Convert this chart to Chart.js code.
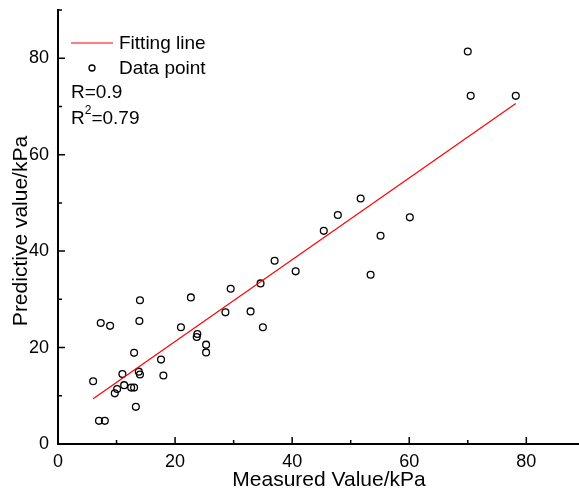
<!DOCTYPE html>
<html>
<head>
<meta charset="utf-8">
<script src="https://cdn.jsdelivr.net/npm/chart.js@4.4.1/dist/chart.umd.min.js"></script>
<style>
  html, body { margin: 0; padding: 0; background: #fff; }
  #wrap { width: 579px; height: 492px; position: relative; }
</style>
</head>
<body>
<div id="wrap"><canvas id="fitChart"></canvas></div>
<script>
// measured vs predicted values
const measured = [6.0, 7.0, 8.0, 7.3, 8.9, 9.7, 10.1, 11.0, 11.3, 12.5, 13.0, 13.0, 13.3, 13.8, 14.0, 13.9, 14.0,
                  17.6, 18.0, 21.0, 22.7, 23.8, 23.7, 25.3, 25.3, 28.6, 29.5, 32.9, 34.6, 35.0,
                  37.0, 40.6, 45.4, 47.8, 51.7, 53.4, 55.1, 60.1, 70.0, 70.5, 78.2];
const predicted = [13.0, 4.8, 4.8, 25.1, 24.5, 10.5, 11.4, 14.5, 12.2, 11.7, 11.7, 18.9, 7.7, 15.0, 14.4, 25.5, 29.8,
                   17.5, 14.2, 24.2, 30.4, 22.8, 22.2, 20.6, 19.0, 27.3, 32.2, 27.5, 33.3, 24.2,
                   38.0, 35.8, 44.2, 47.5, 50.9, 35.1, 43.2, 47.0, 81.4, 72.2, 72.2];

// fitting line end points
const fitX = [6.0, 78.2];
const fitY = [9.4, 70.6];

const xTicks = [0, 20, 40, 60, 80];
const yTicks = [0, 20, 40, 60, 80];
const xMinor = [10, 30, 50, 70];
const yMinor = [10, 30, 50, 70, 90];

const xTitle = 'Measured Value/kPa';
const yTitle = 'Predictive value/kPa';
const rValue = 'R=0.9';
const r2Value = '0.79';

const FONT = '"Liberation Sans", Arial, sans-serif';

// inward tick marks, axis titles and legend block
const axisDecor = {
    id: 'axisDecor',
    afterDraw(chart) {
        const ctx = chart.ctx;
        const xs = chart.scales.x, ys = chart.scales.y;
        const area = chart.chartArea;
        ctx.save();
        ctx.strokeStyle = '#000';
        ctx.lineWidth = 1.5;
        ctx.beginPath();
        xTicks.forEach(function(v) {
            const px = xs.getPixelForValue(v);
            ctx.moveTo(px, area.bottom); ctx.lineTo(px, area.bottom - 7);
        });
        xMinor.forEach(function(v) {
            const px = xs.getPixelForValue(v);
            ctx.moveTo(px, area.bottom); ctx.lineTo(px, area.bottom - 4);
        });
        yTicks.forEach(function(v) {
            const py = ys.getPixelForValue(v);
            ctx.moveTo(area.left, py); ctx.lineTo(area.left + 7, py);
        });
        yMinor.forEach(function(v) {
            const py = ys.getPixelForValue(v);
            ctx.moveTo(area.left, py); ctx.lineTo(area.left + 4, py);
        });
        ctx.stroke();

        // axis titles
        ctx.fillStyle = '#000';
        ctx.font = '21px ' + FONT;
        ctx.textAlign = 'center';
        ctx.textBaseline = 'middle';
        ctx.fillText(xTitle, 329, 480);
        ctx.save();
        ctx.translate(21, 231);
        ctx.rotate(-Math.PI / 2);
        ctx.fillText(yTitle, 0, 0);
        ctx.restore();

        // legend
        const ds = chart.data.datasets;
        ctx.font = '19px ' + FONT;
        ctx.textAlign = 'left';

        ctx.strokeStyle = '#ff0000';
        ctx.lineWidth = 1.2;
        ctx.beginPath();
        ctx.moveTo(71, 43); ctx.lineTo(113, 43);
        ctx.stroke();
        ctx.fillText(ds[0].label, 119, 44);

        ctx.strokeStyle = '#000';
        ctx.lineWidth = 1.3;
        ctx.beginPath();
        ctx.arc(92, 68, 3, 0, Math.PI * 2);
        ctx.stroke();
        ctx.fillText(ds[1].label, 119, 69);

        ctx.fillText(rValue, 71, 93);
        ctx.fillText('R', 71, 119);
        const rw = ctx.measureText('R').width;
        ctx.font = '12px ' + FONT;
        ctx.fillText('2', 71 + rw, 111);
        const sw = ctx.measureText('2').width;
        ctx.font = '19px ' + FONT;
        ctx.fillText('=' + r2Value, 71 + rw + sw, 119);
        ctx.restore();
    }
};

const points = measured.map(function(x, i) { return { x: x, y: predicted[i] }; });
const fitLine = fitX.map(function(x, i) { return { x: x, y: fitY[i] }; });

new Chart(document.getElementById('fitChart'), {
    type: 'scatter',
    data: {
        datasets: [{
            label: 'Fitting line',
            type: 'line',
            data: fitLine,
            borderColor: '#ff0000',
            borderWidth: 1.2,
            pointRadius: 0,
            fill: false
        }, {
            label: 'Data point',
            data: points,
            pointRadius: 3.4,
            pointBorderWidth: 1.3,
            pointBorderColor: '#000',
            pointBackgroundColor: 'rgba(0,0,0,0)'
        }]
    },
    options: {
        responsive: true,
        maintainAspectRatio: false,
        animation: false,
        layout: { autoPadding: false, padding: { top: 10, right: 0, left: 0, bottom: 0 } },
        plugins: {
            legend: { display: false },
            tooltip: { enabled: false }
        },
        scales: {
            x: {
                type: 'linear',
                min: 0,
                max: 89,
                afterBuildTicks: function(scale) { scale.ticks = xTicks.map(function(v) { return { value: v }; }); },
                afterFit: function(scale) { scale.height = 48; scale.paddingLeft = 0; scale.paddingRight = 0; },
                grid: { display: false, drawTicks: false },
                border: { display: true, color: '#000', width: 2 },
                ticks: { color: '#000', padding: 7, maxRotation: 0, font: { family: FONT, size: 18 } }
            },
            y: {
                type: 'linear',
                min: 0,
                max: 90,
                afterBuildTicks: function(scale) { scale.ticks = yTicks.map(function(v) { return { value: v }; }); },
                afterFit: function(scale) { scale.width = 58; scale.paddingTop = 0; scale.paddingBottom = 0; },
                grid: { display: false, drawTicks: false },
                border: { display: true, color: '#000', width: 2 },
                ticks: { color: '#000', padding: 9, font: { family: FONT, size: 18 } }
            }
        }
    },
    plugins: [axisDecor]
});
</script>
</body>
</html>
